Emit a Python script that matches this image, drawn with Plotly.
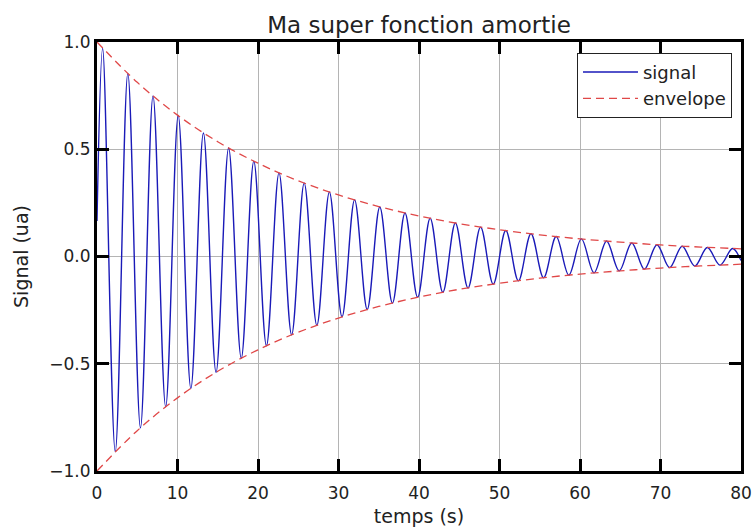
import plotly.graph_objects as go

# Signal: start point, successive extrema (peaks/troughs), end point
signal_t = [0.0, 0.70, 2.27, 3.83, 5.40, 6.96, 8.53, 10.09, 11.66, 13.22, 14.79, 16.35,
            17.92, 19.48, 21.05, 22.61, 24.18, 25.74, 27.31, 28.87, 30.44, 32.00, 33.57,
            35.13, 36.70, 38.26, 39.83, 41.39, 42.96, 44.52, 46.09, 47.65, 49.22, 50.78,
            52.35, 53.91, 55.48, 57.04, 58.61, 60.17, 61.74, 63.30, 64.87, 66.43, 68.00,
            69.56, 71.13, 72.69, 74.26, 75.82, 77.39, 78.95, 80.0]
signal_v = [0.165, 0.971, -0.910, 0.853, -0.799, 0.748, -0.701, 0.657, -0.615, 0.576,
            -0.540, 0.506, -0.474, 0.444, -0.416, 0.390, -0.365, 0.342, -0.321, 0.300,
            -0.281, 0.264, -0.247, 0.231, -0.217, 0.203, -0.190, 0.178, -0.167, 0.156,
            -0.147, 0.137, -0.129, 0.121, -0.113, 0.106, -0.099, 0.093, -0.087, 0.082,
            -0.076, 0.072, -0.067, 0.063, -0.059, 0.055, -0.052, 0.048, -0.045, 0.042,
            -0.040, 0.037, -0.019]

# Envelope read every 5 s
env_t = [0, 5, 10, 15, 20, 25, 30, 35, 40, 45, 50, 55, 60, 65, 70, 75, 80]
env_v = [1.0, 0.812, 0.659, 0.535, 0.435, 0.353, 0.287, 0.233, 0.189, 0.153, 0.125,
         0.101, 0.082, 0.067, 0.054, 0.044, 0.036]

x_ticks = [0, 10, 20, 30, 40, 50, 60, 70, 80]
y_ticks = [-1.0, -0.5, 0.0, 0.5, 1.0]
y_tick_labels = ["\u22121.0", "\u22120.5", "0.0", "0.5", "1.0"]

FONT = "DejaVu Sans"
TXT = "#222222"

fig = go.Figure()
fig.add_trace(go.Scatter(
    x=signal_t, y=signal_v, mode="lines", name="signal",
    line=dict(color="#1a1ab8", width=1.4, shape="spline", smoothing=1.0),
))
fig.add_trace(go.Scatter(
    x=env_t + [None] + env_t,
    y=env_v + [None] + [-v for v in env_v],
    mode="lines", name="envelope", connectgaps=False,
    line=dict(color="#e04848", width=1.3, dash="8px,5px", shape="spline"),
))

axis_common = dict(
    showline=True, linecolor="black", linewidth=3, mirror="allticks",
    ticks="inside", ticklen=12, tickwidth=2.5, tickcolor="black",
    showgrid=True, gridcolor="#b4b4b4", gridwidth=1, zeroline=False,
    automargin=False,
    tickfont=dict(family=FONT, size=17, color=TXT),
)

fig.update_layout(
    width=755, height=528,
    margin=dict(l=97, r=14, t=42, b=57),
    paper_bgcolor="white", plot_bgcolor="white",
    title=dict(text="Ma super fonction amortie", x=0.5, xref="paper",
               y=1 - 25 / 528, yref="container", yanchor="middle", xanchor="center",
               font=dict(family=FONT, size=23, color=TXT)),
    xaxis=dict(range=[0, 80], tickvals=x_ticks, ticklabelstandoff=5,
               title=dict(text="temps (s)", font=dict(family=FONT, size=19, color=TXT),
                          standoff=8),
               **axis_common),
    yaxis=dict(range=[-1, 1], tickvals=y_ticks, ticktext=y_tick_labels,
               title=dict(text="Signal (ua)", font=dict(family=FONT, size=19, color=TXT),
                          standoff=16),
               **axis_common),
    legend=dict(x=0.986, y=0.975, xanchor="right", yanchor="top",
                bgcolor="white", bordercolor="#222222", borderwidth=1,
                font=dict(family=FONT, size=18, color=TXT),
                itemwidth=55, tracegroupgap=2),
    showlegend=True,
)

fig.write_html("out.html")
